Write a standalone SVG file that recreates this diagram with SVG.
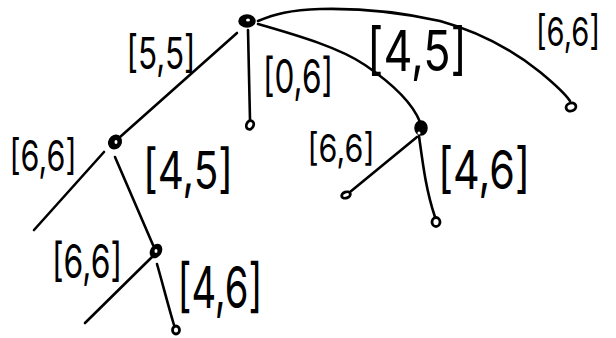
<svg xmlns="http://www.w3.org/2000/svg" width="616" height="338" viewBox="0 0 616 338">
<style>
.e{fill:none;stroke:#000;stroke-width:2.6;stroke-linecap:round;stroke-linejoin:round}
.n{fill:#000;stroke:#000;stroke-width:1.5}
.h{fill:#fff}
.l{fill:#fff;stroke:#000;stroke-width:2.8}
.t{font-family:"Inter","Liberation Sans",sans-serif;font-weight:400;fill:#000;text-anchor:middle}
</style>
<rect width="616" height="338" fill="#fff"/>
<g id="connectors">
<path class="e" d="M237,33 L120,137"/>
<path class="e" d="M248,30 L250,120"/>
<path class="e" d="M258,24 C300,36 340,48 365,65 C390,82 412,102 420,122"/>
<path class="e" d="M258,21 C275,14 290,10 320,9 C360,8 400,12 440,21 C480,32 515,52 540,72 C557,86 566,95 570,101"/>
<path class="e" d="M104,152 L34,230"/>
<path class="e" d="M115,157 L153,245"/>
<path class="e" d="M152,257 L85,323"/>
<path class="e" d="M157,264 C163,285 168,305 174,325"/>
<path class="e" d="M417,137 L350,192"/>
<path class="e" d="M419,136 C423,165 426,190 435,217"/>
</g>
<g id="root"><ellipse class="n" cx="247" cy="21" rx="8" ry="6"/><ellipse class="h" cx="248" cy="20" rx="2" ry="1.5"/></g>
<g id="n_a"><ellipse class="n" cx="115" cy="142" rx="6" ry="7" transform="rotate(30 115 142)"/><ellipse class="h" cx="116" cy="142" rx="1.5" ry="2"/></g>
<g id="n_b"><ellipse class="n" cx="156" cy="251" rx="5" ry="7" transform="rotate(30 156 251)"/><ellipse class="h" cx="156" cy="251" rx="1.5" ry="2"/></g>
<g id="n_c"><ellipse class="n" cx="421" cy="128" rx="6" ry="7"/><ellipse class="h" cx="419" cy="133" rx="1.5" ry="1.5"/></g>
<g id="leaf_mid"><ellipse class="l" cx="250" cy="125" rx="3.5" ry="4.5" transform="rotate(25 250 125)"/></g>
<g id="leaf_d"><ellipse class="l" cx="571" cy="107" rx="5" ry="4" transform="rotate(-20 571 107)"/></g>
<g id="leaf_c1"><ellipse class="l" cx="346" cy="195" rx="4.5" ry="3" transform="rotate(-20 346 195)"/></g>
<g id="leaf_c2"><ellipse class="l" cx="436" cy="222" rx="4" ry="4.5"/></g>
<g id="leaf_b2"><ellipse class="l" cx="176" cy="330" rx="3.5" ry="4"/></g>
<g id="labels">
<text class="t" x="161" y="69" font-size="44" textLength="69" lengthAdjust="spacingAndGlyphs">[5,5]</text>
<text class="t" x="298" y="93" font-size="46" textLength="70" lengthAdjust="spacingAndGlyphs">[0,6]</text>
<text class="t" x="417" y="71" font-size="56" textLength="100" lengthAdjust="spacingAndGlyphs">[4,5]</text>
<text class="t" x="600" y="46" font-size="40" textLength="64" lengthAdjust="spacingAndGlyphs" style="text-anchor:end">[6,6]</text>
<text class="t" x="43" y="171" font-size="42" textLength="67" lengthAdjust="spacingAndGlyphs">[6,6]</text>
<text class="t" x="188" y="189" font-size="52" textLength="90" lengthAdjust="spacingAndGlyphs">[4,5]</text>
<text class="t" x="87" y="278" font-size="46" textLength="70" lengthAdjust="spacingAndGlyphs">[6,6]</text>
<text class="t" x="220" y="308" font-size="58" textLength="85" lengthAdjust="spacingAndGlyphs">[4,6]</text>
<text class="t" x="341" y="162" font-size="38" textLength="67" lengthAdjust="spacingAndGlyphs">[6,6]</text>
<text class="t" x="484" y="189" font-size="54" textLength="92" lengthAdjust="spacingAndGlyphs">[4,6]</text>
</g>
</svg>
